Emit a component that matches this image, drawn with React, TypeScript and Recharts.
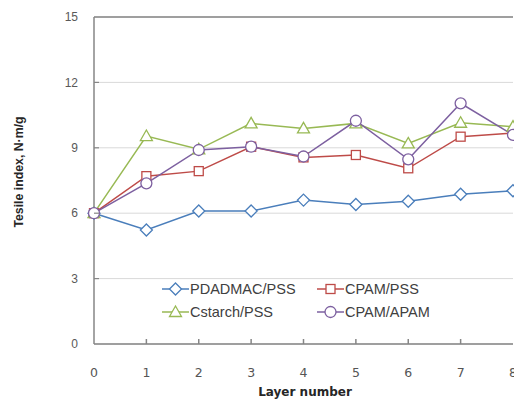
import React from 'react';
import { LineChart, Line, XAxis, YAxis, CartesianGrid, ReferenceLine, Legend, Label } from 'recharts';

const layers = [0, 1, 2, 3, 4, 5, 6, 7, 8];
const pdadmacPss = [6.0, 5.23, 6.1, 6.1, 6.6, 6.4, 6.55, 6.87, 7.03];
const cpamPss = [6.0, 7.7, 7.93, 9.05, 8.56, 8.67, 8.06, 9.51, 9.68];
const cstarchPss = [6.0, 9.54, 8.93, 10.12, 9.89, 10.12, 9.2, 10.15, 9.97];
const cpamApam = [6.0, 7.37, 8.9, 9.05, 8.6, 10.24, 8.47, 11.04, 9.59];
const yTicks = [0, 3, 6, 9, 12, 15];

const series = [
  { key: 'pdadmac', name: 'PDADMAC/PSS', color: '#4a7ebb', shape: 'diamond', values: pdadmacPss },
  { key: 'cpampss', name: 'CPAM/PSS', color: '#be4b48', shape: 'square', values: cpamPss },
  { key: 'cstarch', name: 'Cstarch/PSS', color: '#98b954', shape: 'triangle', values: cstarchPss },
  { key: 'cpamapam', name: 'CPAM/APAM', color: '#7d60a0', shape: 'circle', values: cpamApam },
];

const data = layers.map((x, i) => {
  const row: any = { x };
  series.forEach((s) => { row[s.key] = s.values[i]; });
  return row;
});

const Marker = ({ shape, cx, cy, color }: any) => {
  const common = { fill: '#ffffff', stroke: color, strokeWidth: 1.3 };
  if (shape === 'diamond') {
    return <polygon points={`${cx},${cy - 6} ${cx + 6},${cy} ${cx},${cy + 6} ${cx - 6},${cy}`} {...common} />;
  }
  if (shape === 'square') {
    return <rect x={cx - 4.5} y={cy - 4.5} width={9} height={9} {...common} />;
  }
  if (shape === 'triangle') {
    return <polygon points={`${cx},${cy - 6} ${cx + 6},${cy + 4.5} ${cx - 6},${cy + 4.5}`} {...common} />;
  }
  return <circle cx={cx} cy={cy} r={5.5} {...common} />;
};

const XTick = ({ x, y, payload }: any) => {
  const v = payload.value;
  return (
    <g>
      {v > 0 && v < 8 && <line x1={x} x2={x} y1={y} y2={y - 5} stroke="#868686" strokeWidth={1.5} />}
      <text x={x} y={y + 28} textAnchor="middle" dominantBaseline="central" fontFamily="DejaVu Sans" fontSize={12.5} fill="#555555">
        {v}
      </text>
    </g>
  );
};

const YTick = ({ x, y, payload }: any) => (
  <g>
    {payload.value > 0 && payload.value < 15 && (
      <line x1={x + 16} x2={x + 21} y1={y} y2={y} stroke="#868686" strokeWidth={1.2} />
    )}
    <text x={x} y={y} dy="0.35em" textAnchor="end" fontFamily="Liberation Sans, Arial" fontSize={12} fill="#595959">
      {payload.value}
    </text>
  </g>
);

const renderLegend = () => (
  <div style={{ display: 'grid', gridTemplateColumns: '155px 155px', rowGap: 4, fontFamily: 'Liberation Sans, Arial', fontSize: 14.5, color: '#404040' }}>
    {series.map((s) => (
      <div key={s.key} style={{ display: 'flex', alignItems: 'center', height: 19 }}>
        <svg width={27} height={16} style={{ display: 'block' }}>
          <line x1={0} x2={27} y1={8} y2={8} stroke={s.color} strokeWidth={1.5} />
          <Marker shape={s.shape} cx={13.5} cy={8} color={s.color} />
        </svg>
        <span style={{ marginLeft: 1, whiteSpace: 'nowrap' }}>{s.name}</span>
      </div>
    ))}
  </div>
);

export default function App() {
  return (
    <div style={{ position: 'absolute', left: 0, top: 0, background: '#ffffff' }}>
      <LineChart width={514} height={407} data={data} margin={{ top: 17, right: 1, left: 0, bottom: 0 }}>
        <CartesianGrid vertical={false} stroke="#d9d9d9" strokeWidth={1} />
        <XAxis
          dataKey="x"
          type="number"
          domain={[0, 8]}
          ticks={layers}
          height={63}
          tickSize={0}
          tickMargin={0}
          tickLine={false}
          tick={<XTick />}
          axisLine={{ stroke: '#868686', strokeWidth: 1.5 }}
          interval={0}
        >
          <Label
            content={() => (
              <text x={305} y={392} textAnchor="middle" dominantBaseline="central" fontFamily="DejaVu Sans" fontWeight="bold" fontSize={12} fill="#262626">
                Layer number
              </text>
            )}
          />
        </XAxis>
        <YAxis
          type="number"
          domain={[0, 15]}
          ticks={yTicks}
          width={94}
          tickSize={0}
          tickMargin={16}
          tickLine={false}
          tick={<YTick />}
          axisLine={{ stroke: '#868686', strokeWidth: 1.5 }}
          interval={0}
        >
          <Label
            content={() => (
              <text x={19} y={172} transform="rotate(-90, 19, 172)" textAnchor="middle" dominantBaseline="central" fontFamily="Liberation Sans, Arial" fontWeight="bold" fontSize={12.3} fill="#262626">
                Tesile index, N·m/g
              </text>
            )}
          />
        </YAxis>
        <ReferenceLine y={15} stroke="#868686" strokeWidth={1.5} />
        {series.map((s) => (
          <Line
            key={s.key}
            dataKey={s.key}
            name={s.name}
            stroke={s.color}
            strokeWidth={1.5}
            isAnimationActive={false}
            dot={(p: any) => <Marker key={`${s.key}-${p.index}`} shape={s.shape} cx={p.cx} cy={p.cy} color={s.color} />}
            activeDot={false}
          />
        ))}
        <Legend
          layout="horizontal"
          verticalAlign="middle"
          align="center"
          content={renderLegend}
          wrapperStyle={{ position: 'absolute', left: 162, top: 279, width: 320 }}
        />
      </LineChart>
    </div>
  );
}
